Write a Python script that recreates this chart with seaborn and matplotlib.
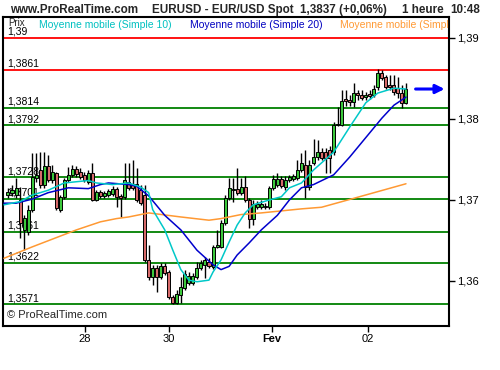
import numpy as np
import pandas as pd
import matplotlib
matplotlib.use('Agg')
import matplotlib.pyplot as plt
import seaborn as sns

# hourly EUR/USD candles (open, high, low, close)
opens = [1.3706, 1.3709, 1.3706, 1.3700, 1.3663, 1.3661, 1.3688, 1.3727, 1.3737, 1.3719,
         1.3742, 1.3725, 1.3733, 1.3688, 1.3704, 1.3725, 1.3731, 1.3738, 1.3735, 1.3731,
         1.3722, 1.3733, 1.3700, 1.3710, 1.3705, 1.3706, 1.3707, 1.3714, 1.3705, 1.3704,
         1.3722, 1.3720, 1.3720, 1.3712, 1.3706, 1.3626, 1.3605, 1.3616, 1.3605, 1.3618,
         1.3611, 1.3580, 1.3573, 1.3583, 1.3591, 1.3597, 1.3597, 1.3605, 1.3616, 1.3620,
         1.3623, 1.3617, 1.3642, 1.3642, 1.3672, 1.3702, 1.3712, 1.3714, 1.3709, 1.3716,
         1.3700, 1.3677, 1.3691, 1.3691, 1.3691, 1.3691, 1.3715, 1.3719, 1.3726, 1.3716,
         1.3725, 1.3726, 1.3727, 1.3737, 1.3743, 1.3716, 1.3746, 1.3753, 1.3759, 1.3759,
         1.3762, 1.3759, 1.3793, 1.3793, 1.3825, 1.3824, 1.3821, 1.3832, 1.3830, 1.3827,
         1.3831, 1.3830, 1.3840, 1.3857, 1.3852, 1.3842, 1.3842, 1.3838, 1.3832, 1.3820]
highs = [1.3715, 1.3719, 1.3727, 1.3716, 1.3682, 1.3694, 1.3758, 1.3758, 1.3759, 1.3759,
         1.3756, 1.3743, 1.3735, 1.3706, 1.3727, 1.3741, 1.3743, 1.3742, 1.3740, 1.3735,
         1.3737, 1.3746, 1.3712, 1.3712, 1.3711, 1.3714, 1.3717, 1.3716, 1.3707, 1.3746,
         1.3746, 1.3749, 1.3740, 1.3719, 1.3719, 1.3644, 1.3620, 1.3620, 1.3622, 1.3622,
         1.3614, 1.3583, 1.3589, 1.3605, 1.3614, 1.3611, 1.3610, 1.3623, 1.3626, 1.3630,
         1.3628, 1.3644, 1.3663, 1.3675, 1.3706, 1.3727, 1.3727, 1.3740, 1.3727, 1.3730,
         1.3702, 1.3700, 1.3699, 1.3700, 1.3696, 1.3717, 1.3731, 1.3733, 1.3730, 1.3730,
         1.3731, 1.3732, 1.3749, 1.3758, 1.3762, 1.3749, 1.3775, 1.3774, 1.3764, 1.3764,
         1.3767, 1.3796, 1.3815, 1.3836, 1.3836, 1.3830, 1.3845, 1.3836, 1.3836, 1.3833,
         1.3836, 1.3842, 1.3862, 1.3861, 1.3854, 1.3854, 1.3854, 1.3852, 1.3842, 1.3845]
lows = [1.3702, 1.3705, 1.3702, 1.3653, 1.3638, 1.3657, 1.3685, 1.3722, 1.3715, 1.3715,
        1.3722, 1.3721, 1.3688, 1.3685, 1.3701, 1.3722, 1.3728, 1.3728, 1.3726, 1.3722,
        1.3720, 1.3699, 1.3699, 1.3702, 1.3702, 1.3704, 1.3705, 1.3691, 1.3679, 1.3701,
        1.3712, 1.3712, 1.3697, 1.3694, 1.3623, 1.3601, 1.3595, 1.3586, 1.3602, 1.3607,
        1.3578, 1.3572, 1.3572, 1.3573, 1.3589, 1.3595, 1.3595, 1.3602, 1.3614, 1.3604,
        1.3616, 1.3615, 1.3641, 1.3641, 1.3669, 1.3700, 1.3697, 1.3706, 1.3706, 1.3697,
        1.3665, 1.3669, 1.3689, 1.3689, 1.3689, 1.3689, 1.3712, 1.3716, 1.3715, 1.3712,
        1.3722, 1.3723, 1.3725, 1.3735, 1.3702, 1.3712, 1.3743, 1.3749, 1.3749, 1.3733,
        1.3733, 1.3756, 1.3791, 1.3791, 1.3816, 1.3816, 1.3815, 1.3824, 1.3824, 1.3824,
        1.3825, 1.3827, 1.3836, 1.3848, 1.3837, 1.3836, 1.3830, 1.3826, 1.3814, 1.3819]
closes = [1.3710, 1.3712, 1.3715, 1.3672, 1.3678, 1.3688, 1.3728, 1.3731, 1.3719, 1.3742,
          1.3725, 1.3735, 1.3690, 1.3704, 1.3725, 1.3731, 1.3738, 1.3732, 1.3728, 1.3725,
          1.3733, 1.3700, 1.3710, 1.3705, 1.3709, 1.3711, 1.3714, 1.3704, 1.3702, 1.3725,
          1.3715, 1.3715, 1.3700, 1.3696, 1.3626, 1.3605, 1.3616, 1.3605, 1.3618, 1.3610,
          1.3580, 1.3573, 1.3584, 1.3593, 1.3609, 1.3606, 1.3606, 1.3616, 1.3622, 1.3626,
          1.3618, 1.3642, 1.3644, 1.3672, 1.3702, 1.3715, 1.3714, 1.3709, 1.3716, 1.3700,
          1.3677, 1.3695, 1.3695, 1.3695, 1.3693, 1.3715, 1.3726, 1.3726, 1.3717, 1.3725,
          1.3728, 1.3730, 1.3737, 1.3746, 1.3716, 1.3743, 1.3753, 1.3759, 1.3752, 1.3752,
          1.3752, 1.3793, 1.3794, 1.3822, 1.3822, 1.3821, 1.3832, 1.3830, 1.3826, 1.3830,
          1.3828, 1.3837, 1.3857, 1.3851, 1.3840, 1.3840, 1.3833, 1.3832, 1.3820, 1.3837]

# moving averages (candle index, value)
ma10_idx = [-1, 3, 6, 10, 14, 20, 22, 26, 30, 33, 35, 36, 39, 41, 43, 45, 47, 50, 51, 53,
            55, 57, 59, 61, 65, 68, 70, 73, 76, 81, 85, 89, 92, 96, 99]
ma10_val = [1.3694, 1.3698, 1.3706, 1.3712, 1.3721, 1.3724, 1.3721, 1.3719, 1.3721, 1.3716,
            1.3709, 1.3688, 1.3663, 1.3638, 1.3614, 1.3601, 1.3599, 1.3601, 1.3611, 1.3626,
            1.3648, 1.3669, 1.3684, 1.3694, 1.3700, 1.3704, 1.3715, 1.3721, 1.3737, 1.3759,
            1.3790, 1.3820, 1.3832, 1.3838, 1.3837]
ma20_idx = [-1, 2, 6, 10, 15, 20, 23, 25, 30, 32, 35, 39, 43, 47, 51, 53, 55, 57, 60, 63,
            67, 70, 73, 76, 81, 85, 89, 93, 96, 99]
ma20_val = [1.3696, 1.3696, 1.3701, 1.3709, 1.3715, 1.3714, 1.3719, 1.3721, 1.3719, 1.3717,
            1.3705, 1.3681, 1.3663, 1.3638, 1.3620, 1.3614, 1.3618, 1.3632, 1.3647, 1.3663,
            1.3681, 1.3700, 1.3715, 1.3719, 1.3731, 1.3753, 1.3777, 1.3801, 1.3817, 1.3827]
mal_idx = [-1, 6, 17, 23, 27, 30, 35, 43, 50, 53, 58, 63, 73, 78, 86, 99]
mal_val = [1.3628, 1.3642, 1.3663, 1.3673, 1.3677, 1.3679, 1.3684, 1.3679, 1.3675, 1.3677,
           1.3682, 1.3684, 1.3689, 1.3691, 1.3702, 1.3720]

levels = [1.39, 1.3861, 1.3814, 1.3792, 1.3728, 1.3701, 1.3661, 1.3622, 1.3571]
level_labels = ['1,39', '1,3861', '1,3814', '1,3792', '1,3728', '1,3701', '1,3661', '1,3622', '1,3571']
level_colors = ['#ff0000', '#ff0000', '#008000', '#008000', '#008000', '#008000', '#008000', '#008000', '#008000']

day_pos = [19.2, 40.0, 65.7, 89.6]
day_labels = ['28', '30', 'Fev', '02']
price_ticks = [1.36, 1.37, 1.38, 1.39]

df = pd.DataFrame({'open': opens, 'high': highs, 'low': lows, 'close': closes})
df['x'] = np.arange(len(df))
df['up'] = df['close'] >= df['open']

sns.set_theme(style='white')
plt.rcParams['font.family'] = ['Liberation Sans', 'DejaVu Sans']

fig = plt.figure(figsize=(5, 3.7), dpi=100)
ax = fig.add_axes([0.006, 0.119, 0.892, 0.835])

for v, lab, c in zip(levels, level_labels, level_colors):
    ax.axhline(v, color=c, lw=1.3, zorder=1)
    ax.text(0.009, v + 0.00015, lab, transform=ax.get_yaxis_transform(), fontsize=7.5,
            color='black', va='bottom', ha='left', zorder=2)

# candles
ax.vlines(df['x'], df['low'], df['high'], color='black', lw=1, zorder=3)
body_lo = df[['open', 'close']].min(axis=1)
body_h = (df['close'] - df['open']).abs().clip(lower=0.00002)
ax.bar(df['x'], body_h, bottom=body_lo, width=0.75,
       color=np.where(df['up'], '#3cc83c', '#d66a6a'), edgecolor='black', lw=0.7, zorder=4)

sns.lineplot(x=mal_idx, y=mal_val, ax=ax, color='#ff9933', lw=1.1, zorder=5)
sns.lineplot(x=ma20_idx, y=ma20_val, ax=ax, color='#0000cc', lw=1.1, zorder=6)
sns.lineplot(x=ma10_idx, y=ma10_val, ax=ax, color='#00c8c8', lw=1.1, zorder=7)

ax.set_xlim(-1.24, 109.7)
ax.set_ylim(1.35444, 1.39259)

# last price arrow
n = len(df)
ax.annotate('', xy=(109.3, closes[-1]), xytext=(n + 0.7, closes[-1]),
            arrowprops=dict(arrowstyle='-|>', color='#0000ff', lw=2.2, mutation_scale=13))

ax.yaxis.tick_right()
ax.set_yticks(price_ticks)
ax.set_yticklabels([f'{t:.2f}'.replace('.', ',') for t in price_ticks])
ax.set_xticks(day_pos)
ax.set_xticklabels(day_labels)
ax.get_xticklabels()[2].set_fontweight('bold')
ax.tick_params(axis='both', direction='out', length=4, width=1, color='black',
               labelsize=8, pad=2, labelcolor='black')
ax.tick_params(axis='x', bottom=True)
ax.tick_params(axis='y', right=True, left=False)
ax.set_xlabel('')
ax.set_ylabel('')
for s in ax.spines.values():
    s.set_color('black')
    s.set_linewidth(1.5)

# legend row inside the plot
ax.text(0.011, 0.997, 'Prix', transform=ax.transAxes, fontsize=7, va='top')
ax.text(0.081, 0.974, 'Moyenne mobile (Simple 10)', transform=ax.transAxes, fontsize=7.5,
        color='#00c0c0', va='center')
ax.text(0.419, 0.974, 'Moyenne mobile (Simple 20)', transform=ax.transAxes, fontsize=7.5,
        color='#0000c0', va='center')
ax.text(0.756, 0.974, 'Moyenne mobile (Simple 100)', transform=ax.transAxes, fontsize=7.5,
        color='#ff9933', va='center', clip_on=True)
ax.text(0.009, 0.02, '\u00a9 ProRealTime.com', transform=ax.transAxes, fontsize=8, va='bottom')

# header
hdr = dict(fontsize=8.4, fontweight='bold', va='center')
fig.text(0.02, 0.972, 'www.ProRealTime.com', **hdr)
fig.text(0.304, 0.972, 'EURUSD - EUR/USD Spot', **hdr)
fig.text(0.60, 0.972, '1,3837 (+0,06%)', **hdr)
fig.text(0.804, 0.972, '1 heure', **hdr)
fig.text(0.90, 0.972, '10:48', **hdr)

fig.savefig('out.png', dpi=100, facecolor='white')
